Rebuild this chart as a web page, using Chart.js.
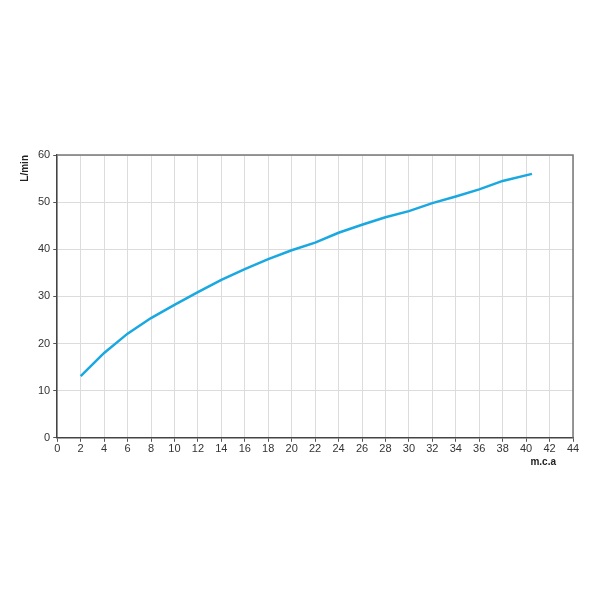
<!DOCTYPE html>
<html>
<head>
<meta charset="utf-8">
<script src="https://cdn.jsdelivr.net/npm/chart.js@4.4.0/dist/chart.umd.min.js"></script>
<style>
html,body{margin:0;padding:0;background:#fff;}
#wrap{width:600px;height:600px;position:relative;}
</style>
</head>
<body>
<div id="wrap"><canvas id="c" width="600" height="600"></canvas></div>
<script>
const pressure = [2, 4, 6, 8, 10, 12, 14, 16, 18, 20, 22, 24, 26, 28, 30, 32, 34, 36, 38, 40.5];
const flow = [13.1, 18.0, 22.1, 25.4, 28.2, 30.9, 33.5, 35.8, 37.9, 39.8, 41.4, 43.5, 45.2, 46.8, 48.1, 49.8, 51.2, 52.7, 54.5, 56.0];
const xTitle = 'm.c.a';
const yTitle = 'L/min';

const frame = {
  id: 'frame',
  afterDraw(chart) {
    const a = chart.chartArea, ctx = chart.ctx;
    ctx.save();
    ctx.strokeStyle = '#777';
    ctx.lineWidth = 1.5;
    ctx.beginPath();
    ctx.moveTo(a.left, a.top);
    ctx.lineTo(a.right, a.top);
    ctx.lineTo(a.right, a.bottom);
    ctx.stroke();
    // x axis title, right-aligned just inside the axis end
    ctx.fillStyle = '#222';
    ctx.font = 'bold 10px "Liberation Sans", Arial';
    ctx.textAlign = 'right';
    ctx.textBaseline = 'middle';
    ctx.fillText(xTitle, a.right - 17, a.bottom + 24);
    ctx.restore();
  }
};

new Chart(document.getElementById('c'), {
  type: 'line',
  data: {
    datasets: [{
      data: pressure.map((x, i) => ({x: x, y: flow[i]})),
      borderColor: '#1aa8e0',
      borderWidth: 2.5,
      pointRadius: 0,
      tension: 0,
      fill: false
    }]
  },
  options: {
    responsive: false,
    animation: false,
    layout: {padding: {left: 15, right: 27, top: 155, bottom: 143}},
    plugins: {legend: {display: false}, tooltip: {enabled: false}},
    scales: {
      x: {
        type: 'linear', min: 0, max: 44,
        ticks: {stepSize: 2, color: '#333', font: {family: 'Liberation Sans, Arial', size: 11}, padding: 1, maxRotation: 0},
        grid: {color: '#dcdcdc', lineWidth: 1, tickLength: 4, tickColor: '#555'},
        border: {color: '#444', width: 1.5}
      },
      y: {
        min: 0, max: 60,
        ticks: {stepSize: 10, color: '#333', font: {family: 'Liberation Sans, Arial', size: 11}, padding: 3},
        grid: {color: '#dcdcdc', lineWidth: 1, tickLength: 4, tickColor: '#555'},
        border: {color: '#444', width: 1.5},
        title: {display: true, text: yTitle, align: 'end', color: '#222', font: {family: 'Liberation Sans, Arial', size: 10, weight: 'bold'}, padding: {bottom: 4}}
      }
    }
  },
  plugins: [frame]
});
</script>
</body>
</html>
